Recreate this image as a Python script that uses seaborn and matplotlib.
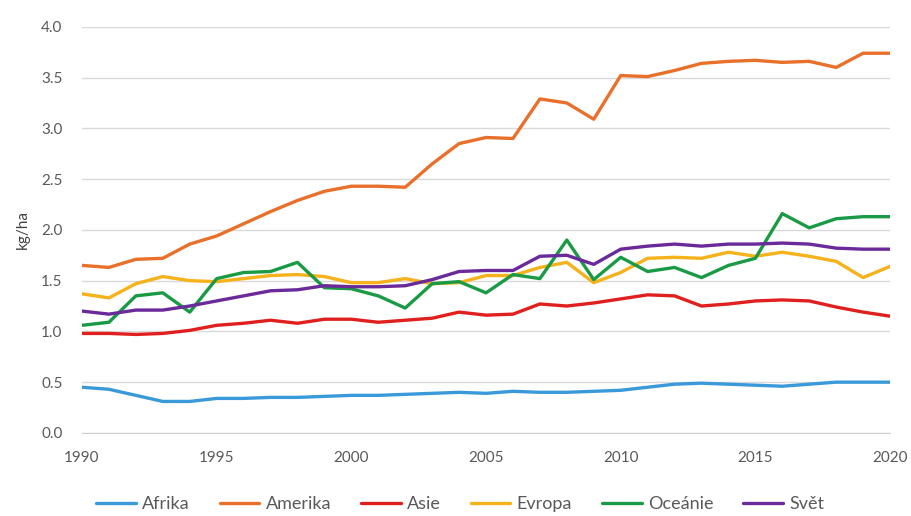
import numpy as np
import pandas as pd
import matplotlib.pyplot as plt
import seaborn as sns

years = list(range(1990, 2021))

afrika = [0.45, 0.43, 0.37, 0.31, 0.31, 0.34, 0.34, 0.35, 0.35, 0.36, 0.37,
          0.37, 0.38, 0.39, 0.40, 0.39, 0.41, 0.40, 0.40, 0.41, 0.42,
          0.45, 0.48, 0.49, 0.48, 0.47, 0.46, 0.48, 0.50, 0.50, 0.50]
amerika = [1.65, 1.63, 1.71, 1.72, 1.86, 1.94, 2.06, 2.18, 2.29, 2.38, 2.43,
           2.43, 2.42, 2.65, 2.85, 2.91, 2.90, 3.29, 3.25, 3.09, 3.52,
           3.51, 3.57, 3.64, 3.66, 3.67, 3.65, 3.66, 3.60, 3.74, 3.74]
asie = [0.98, 0.98, 0.97, 0.98, 1.01, 1.06, 1.08, 1.11, 1.08, 1.12, 1.12,
        1.09, 1.11, 1.13, 1.19, 1.16, 1.17, 1.27, 1.25, 1.28, 1.32,
        1.36, 1.35, 1.25, 1.27, 1.30, 1.31, 1.30, 1.24, 1.19, 1.15]
evropa = [1.37, 1.33, 1.47, 1.54, 1.50, 1.49, 1.52, 1.55, 1.56, 1.54, 1.48,
          1.48, 1.52, 1.47, 1.48, 1.55, 1.55, 1.63, 1.68, 1.48, 1.58,
          1.72, 1.73, 1.72, 1.78, 1.74, 1.78, 1.74, 1.69, 1.53, 1.64]
oceanie = [1.06, 1.09, 1.35, 1.38, 1.19, 1.52, 1.58, 1.59, 1.68, 1.43, 1.42,
           1.35, 1.23, 1.47, 1.49, 1.38, 1.56, 1.52, 1.90, 1.51, 1.73,
           1.59, 1.63, 1.53, 1.65, 1.72, 2.16, 2.02, 2.11, 2.13, 2.13]
svet = [1.20, 1.17, 1.21, 1.21, 1.25, 1.30, 1.35, 1.40, 1.41, 1.45, 1.44,
        1.44, 1.45, 1.51, 1.59, 1.60, 1.60, 1.74, 1.75, 1.66, 1.81,
        1.84, 1.86, 1.84, 1.86, 1.86, 1.87, 1.86, 1.82, 1.81, 1.81]

regions = ['Afrika', 'Amerika', 'Asie', 'Evropa', 'Oceánie', 'Svět']
series = [afrika, amerika, asie, evropa, oceanie, svet]
colors = ['#3a9ad9', '#e8702a', '#e0201e', '#f5b21a', '#1a9a45', '#6a2a9a']

df = pd.DataFrame({
    'rok': years * len(regions),
    'hodnota': [v for s in series for v in s],
    'region': [r for r in regions for _ in years],
})

sns.set_style('white')
plt.rcParams['font.family'] = ['Lato', 'DejaVu Sans']

fig = plt.figure(figsize=(9.11, 5.16), dpi=100)
ax = fig.add_axes([0.090, 0.161, 0.887, 0.787])

sns.lineplot(data=df, x='rok', y='hodnota', hue='region', hue_order=regions,
             palette=colors, linewidth=2.4, ax=ax)

ax.set_xlim(1990, 2020)
ax.set_ylim(0, 4.0)
ax.set_yticks(np.arange(0, 4.01, 0.5))
ax.set_yticklabels([f'{v:.1f}' for v in np.arange(0, 4.01, 0.5)])
ax.set_xticks(range(1990, 2021, 5))
ax.set_xticks(range(1990, 2021), minor=True)
ax.yaxis.grid(True, color='#d9d9d9', linewidth=1)
ax.set_axisbelow(True)
for s in ['top', 'right', 'left']:
    ax.spines[s].set_visible(False)
ax.spines['bottom'].set_color('#d0d0d0')
ax.tick_params(axis='y', length=0, labelsize=11, labelcolor='#595959', pad=14)
ax.tick_params(axis='x', which='both', direction='out', length=4,
               color='#d0d0d0', labelsize=11, labelcolor='#595959', pad=9)
ax.set_xlabel('')
ax.set_ylabel('kg/ha', fontsize=11, color='#404040', labelpad=8)

ax.legend(loc='upper center', bbox_to_anchor=(0.468, -0.115), ncol=6,
          frameon=False, fontsize=13, handlelength=2.2, handletextpad=0.35,
          columnspacing=1.65, labelcolor='#595959')

fig.savefig('out.png', dpi=100)
plt.close()
